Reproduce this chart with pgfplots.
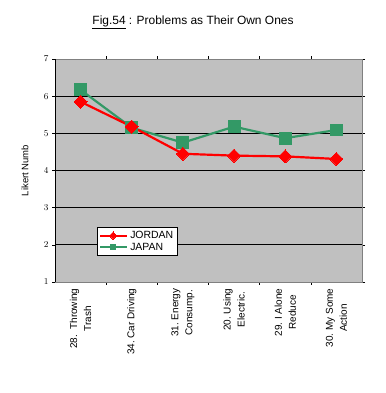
\documentclass[border=0pt]{standalone}
\usepackage{fontspec}
\setmainfont{Liberation Sans}
\usepackage{pgfplots}
\pgfplotsset{compat=1.18}
\definecolor{jred}{RGB}{255,0,0}
\definecolor{jgreen}{RGB}{51,153,102}
\definecolor{bggray}{RGB}{192,192,192}
\definecolor{frgray}{RGB}{128,128,128}
\begin{document}
\begin{tikzpicture}
\useasboundingbox (0,0) rectangle (386bp,393bp);
\node[font=\fontsize{12}{14}\selectfont] at (193bp,371bp) {\underline{Fig.54} : Problems as Their Own Ones};
\begin{axis}[
  at={(55bp,111bp)}, anchor=south west, scale only axis,
  width=307bp, height=223bp,
  xmin=-0.5, xmax=5.5, ymin=1, ymax=7,
  axis background/.style={fill=bggray},
  axis line style={draw=frgray, line width=0.8pt},
  xtick={0,...,5},
  xticklabels={{28.\ \ Throwing\\Trash},{34.\ Car Driving},{31.\ Energy\\Consump.},{20.\ Using\\Electric.},{29.\ I Alone\\Reduce},{30.\ My Some\\Action}},
  xticklabel style={rotate=90, anchor=east, align=center, font=\fontsize{10}{14}\selectfont},
  xtick style={draw=none},
  minor xtick={0.5,1.5,...,4.5},
  minor x tick style={draw=black, line width=0.6pt},
  minor tick length=3bp,
  ytick={1,...,7},
  y tick style={draw=black, line width=0.6pt},
  major tick length=3bp,
  tick align=outside,
  yticklabel style={font=\fontsize{9}{10}\selectfont},
  ymajorgrids, grid style={draw=black, line width=0.8pt},
  ylabel={Likert Numb},
  ylabel style={at={(rel axis cs:-0.098,0.5)}, anchor=center, font=\fontsize{9.5}{11}\selectfont},
  legend style={at={(0.137,0.247)}, anchor=north west, draw=black, fill=white, line width=0.6pt, font=\fontsize{10.5}{12}\selectfont, row sep=-1pt, inner sep=2pt},
  legend cell align=left,
  legend image code/.code={\draw[#1, line width=2pt] (0cm,0cm) -- (0.95cm,0cm); \draw[#1, mark size=2.6pt, mark repeat=1, mark phase=1] plot coordinates {(0.45cm,0cm)};},
]
\addplot[jgreen, line width=2.2pt, mark=square*, mark size=6pt, mark options={solid, fill=jgreen, draw=jgreen, line width=0pt}, forget plot] coordinates {
(0,6.17) (1,5.15) (2,4.75) (3,5.18) (4,4.87) (5,5.09)};
\addplot[jred, line width=2.2pt, mark=square*, mark size=4.6pt, mark options={solid, rotate=45, fill=jred, draw=jred, line width=0pt}] coordinates {
(0,5.85) (1,5.18) (2,4.45) (3,4.40) (4,4.38) (5,4.31)};
\addlegendentry{JORDAN}
\addlegendimage{jgreen, mark=square*, mark options={solid, fill=jgreen, draw=jgreen, line width=0pt}}
\addlegendentry{JAPAN}
\draw[black, line width=0.8pt] (rel axis cs:0,1) -- (rel axis cs:0,0) -- (rel axis cs:1,0);
\end{axis}
\end{tikzpicture}
\end{document}
